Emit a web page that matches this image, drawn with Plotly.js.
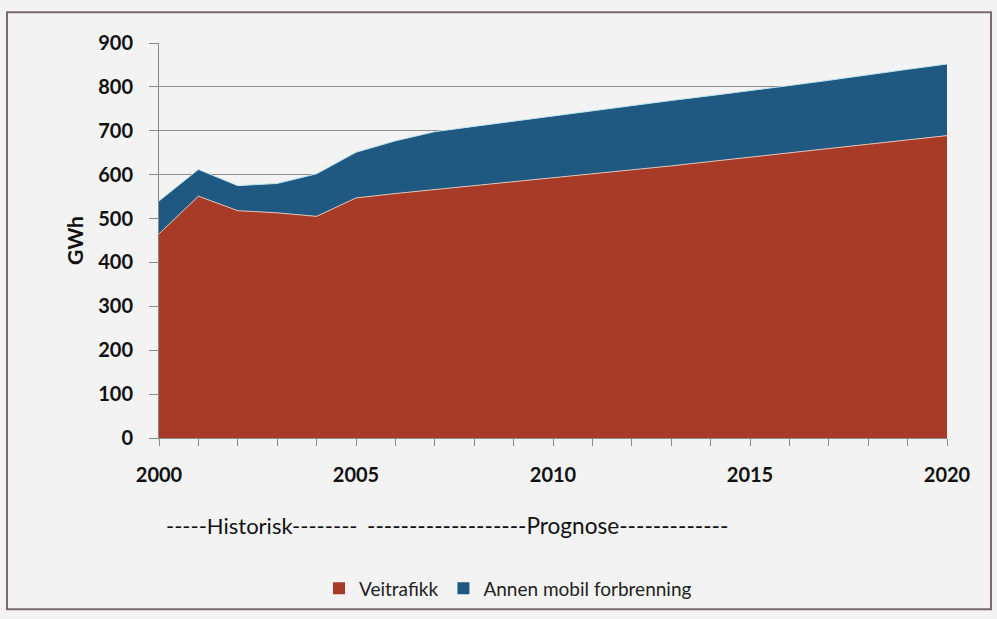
<!DOCTYPE html>
<html>
<head>
<meta charset="utf-8">
<script src="https://cdn.plot.ly/plotly-3.0.1.min.js"></script>
<style>
  html, body { margin: 0; padding: 0; background: #f3f3f3; }
  #chart { width: 997px; height: 619px; }
</style>
</head>
<body>
<div id="chart"></div>
<script>
const years = [2000, 2001, 2002, 2003, 2004, 2005, 2006, 2007, 2008, 2009, 2010,
               2011, 2012, 2013, 2014, 2015, 2016, 2017, 2018, 2019, 2020];
const veitrafikk = [465, 551, 518, 513, 505, 547, 557, 566, 575, 583, 592,
                    601, 610, 620, 630, 640, 649, 659, 669, 679, 689];
const annenMobil = [75, 61, 57, 67, 97, 104, 120, 132, 135, 139, 142,
                    145, 148, 149, 150, 151, 154, 156, 159, 161, 163];
const seriesNames = ["Veitrafikk", "Annen mobil forbrenning"];
const seriesColors = ["#a83b27", "#1f5880"];
const yTicks = [0, 100, 200, 300, 400, 500, 600, 700, 800, 900];
const historiskText = "-----Historisk--------";
const prognoseText = "-------------------Prognose-------------";

const font = "Lato, 'Open Sans', 'DejaVu Sans', sans-serif";

const traces = [
  {
    x: years, y: veitrafikk, name: seriesNames[0], type: "scatter", mode: "lines",
    stackgroup: "one", fillcolor: seriesColors[0], showlegend: false,
    line: { color: "#e3bfb5", width: 1 }
  },
  {
    x: years, y: annenMobil, name: seriesNames[1], type: "scatter", mode: "lines",
    stackgroup: "one", fillcolor: seriesColors[1], showlegend: false,
    line: { color: "#bfe6f0", width: 1 }
  },
  // legend entries drawn as square swatches
  { x: [null], y: [null], type: "bar", name: seriesNames[0], marker: { color: seriesColors[0] }, showlegend: true },
  { x: [null], y: [null], type: "bar", name: seriesNames[1], marker: { color: seriesColors[1] }, showlegend: true }
];

const layout = {
  width: 997, height: 619,
  margin: { l: 159, r: 50, t: 43, b: 177 },
  paper_bgcolor: "#f3f3f3",
  plot_bgcolor: "#f3f3f3",
  font: { family: font, color: "#111" },
  showlegend: true,
  legend: {
    orientation: "h", traceorder: "normal",
    x: (508 - 159) / 788, xanchor: "center", y: (442 - 594) / 399, yanchor: "middle",
    font: { size: 19, family: font, color: "#222" },
    bgcolor: "rgba(0,0,0,0)", itemwidth: 30
  },
  xaxis: {
    range: [2000, 2020], tick0: 2000, dtick: 5, ticks: "outside", ticklen: 7,
    tickcolor: "#888", showline: true, linecolor: "#888", linewidth: 1,
    showgrid: false, zeroline: false, ticklabelstandoff: 12,
    tickfont: { size: 20, family: font, color: "#111", weight: "bold" },
    minor: { dtick: 1, ticks: "outside", ticklen: 7, tickcolor: "#888", showgrid: false },
    fixedrange: true
  },
  yaxis: {
    range: [0, 900], tickvals: yTicks, ticks: "outside", ticklen: 9,
    tickcolor: "#888", showline: true, linecolor: "#888", linewidth: 1,
    showgrid: true, gridcolor: "#958a8a", gridwidth: 1, zeroline: false,
    ticklabelstandoff: 12,
    tickfont: { size: 20, family: font, color: "#111", weight: "bold" },
    title: { text: "GWh", font: { size: 21, family: font, color: "#111", weight: "bold" }, standoff: 8 },
    fixedrange: true
  },
  annotations: [
    {
      text: historiskText, xref: "paper", yref: "paper",
      x: (164 - 159) / 788, y: (442 - 530) / 399, xanchor: "left", yanchor: "middle",
      showarrow: false, font: { size: 22, family: font, color: "#111" }
    },
    {
      text: prognoseText, xref: "paper", yref: "paper",
      x: (365 - 159) / 788, y: (442 - 530) / 399, xanchor: "left", yanchor: "middle",
      showarrow: false, font: { size: 22.6, family: font, color: "#111" }
    }
  ],
  shapes: [
    {
      type: "rect", xref: "paper", yref: "paper",
      x0: (7 - 159) / 788, x1: (991 - 159) / 788,
      y0: (442 - 615) / 399, y1: (442 - 12) / 399,
      line: { color: "#7a6a6a", width: 2 }, fillcolor: "rgba(0,0,0,0)", layer: "below"
    }
  ]
};

Plotly.newPlot("chart", traces, layout, { displayModeBar: false, staticPlot: true });
</script>
</body>
</html>
